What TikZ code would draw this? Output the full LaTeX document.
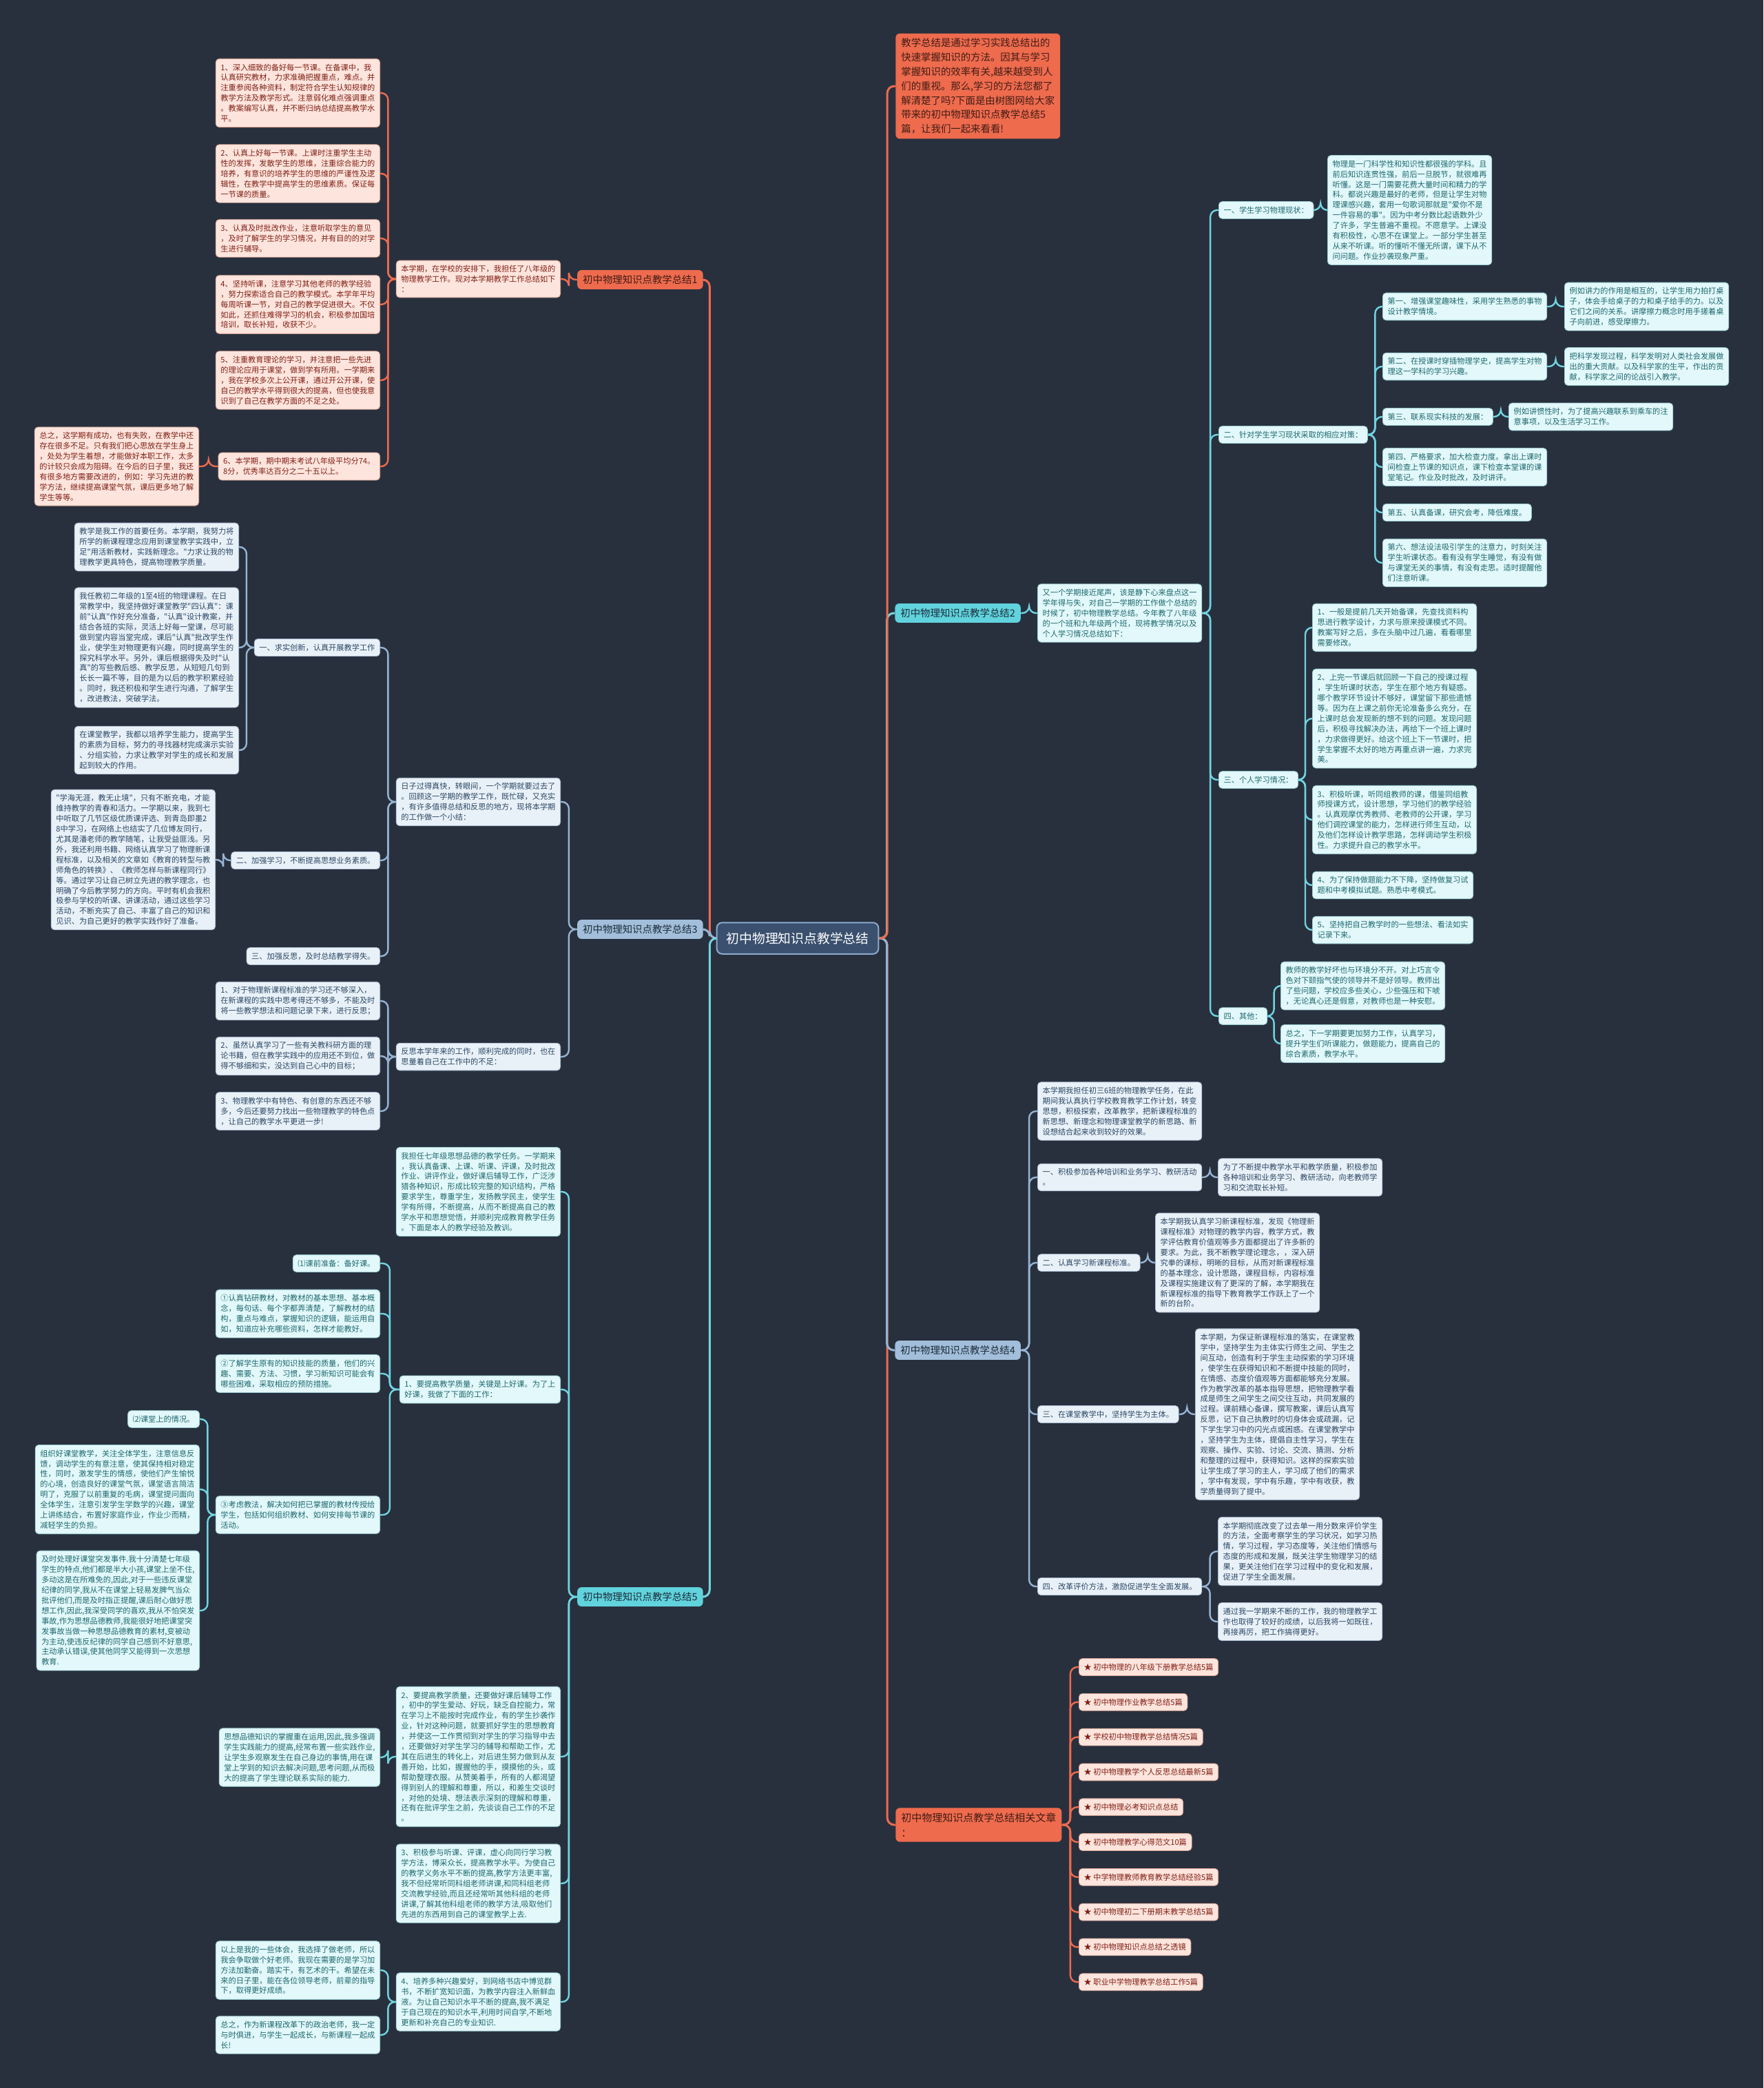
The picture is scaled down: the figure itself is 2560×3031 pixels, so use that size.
\documentclass[tikz,border=0pt]{standalone}
\usepackage{fontspec}
\newfontfamily\cjk{Noto Sans CJK SC}
\usetikzlibrary{calc}
\definecolor{canvas}{RGB}{40,48,62}
\definecolor{ember}{RGB}{238,107,78}
\definecolor{emberdeep}{RGB}{66,28,20}
\definecolor{blush}{RGB}{253,229,221}
\definecolor{blushedge}{RGB}{214,160,142}
\definecolor{blushtext}{RGB}{128,32,22}
\definecolor{aqua}{RGB}{96,211,221}
\definecolor{aqualine}{RGB}{112,212,224}
\definecolor{aquafill}{RGB}{226,248,250}
\definecolor{aquaedge}{RGB}{150,200,206}
\definecolor{aquatext}{RGB}{30,104,110}
\definecolor{steel}{RGB}{162,190,218}
\definecolor{steelline}{RGB}{150,180,210}
\definecolor{steelfill}{RGB}{233,241,248}
\definecolor{steeledge}{RGB}{165,185,205}
\definecolor{steeltext}{RGB}{44,72,100}
\definecolor{topictext}{RGB}{28,44,58}
\definecolor{hubfill}{RGB}{58,80,110}
\definecolor{hubedge}{RGB}{140,170,205}
\tikzset{
  hub/.style={fill=hubfill, draw=hubedge, line width=1pt, text=white, rounded corners=4pt,
    inner xsep=7pt, inner ysep=7pt, font=\cjk\fontsize{9.4}{11}\selectfont},
  topic/.style={rounded corners=3pt, inner xsep=4pt, inner ysep=3.6pt, align=left,
    font=\cjk\fontsize{7.2}{10.4}\selectfont},
  otopic/.style={topic, fill=ember, text=emberdeep},
  atopic/.style={topic, fill=aqua, text=topictext},
  stopic/.style={topic, fill=steel, text=topictext},
  leaf/.style={rounded corners=2.5pt, align=left, inner xsep=3.6pt, inner ysep=3.6pt,
    line width=0.4pt, font=\cjk\fontsize{5.6}{7.45}\selectfont},
  pinkbox/.style={leaf, fill=blush, draw=blushedge, text=blushtext},
  aquabox/.style={leaf, fill=aquafill, draw=aquaedge, text=aquatext},
  steelbox/.style={leaf, fill=steelfill, draw=steeledge, text=steeltext},
  elbow/.style={rounded corners=5pt, line width=1.2pt,
    to path={let \p1=(\tikztostart), \p2=(\tikztotarget) in -- ({(\x1+\x2)/2},\y1) |- (\p2)}},
  olink/.style={elbow, draw=ember},
  alink/.style={elbow, draw=aqualine},
  slink/.style={elbow, draw=steelline},
}
\begin{document}
\begin{tikzpicture}[x=0.5pt,y=-0.5pt]
\fill[canvas] (0,0) rectangle (2560,3031);
\useasboundingbox (0,0) rectangle (2560,3031);

\node[hub] (root) at (1158,1362) {初中物理知识点教学总结};

% right side
\node[otopic, anchor=west] (intro) at (1300,125)
  {教学总结是通过学习实践总结出的\\快速掌握知识的方法。因其与学习\\掌握知识的效率有关,越来越受到人\\们的重视。那么,学习的方法您都了\\解清楚了吗?下面是由树图网给大家\\带来的初中物理知识点教学总结5\\篇，让我们一起来看看!};
\node[atopic, anchor=west] (s2) at (1299,890) {初中物理知识点教学总结2};
\node[stopic, anchor=west] (s4) at (1299,1960) {初中物理知识点教学总结4};
\node[otopic, anchor=west, font=\cjk\fontsize{7.5}{11}\selectfont] (rel) at (1300,2649) {初中物理知识点教学总结相关文章\\：};

\node[aquabox, anchor=west] (s2a) at (1506,890)
  {又一个学期接近尾声，该是静下心来盘点这一\\学年得与失，对自己一学期的工作做个总结的\\时候了，初中物理教学总结。今年教了八年级\\的一个班和九年级两个班，现将教学情况以及\\个人学习情况总结如下：};
\node[aquabox, anchor=west] (s2h1) at (1769,305) {一、学生学习物理现状：};
\node[aquabox, anchor=west] (s2h1t) at (1927,305)
  {物理是一门科学性和知识性都很强的学科。且\\前后知识连贯性强，前后一旦脱节，就很难再\\听懂。这是一门需要花费大量时间和精力的学\\科。都说兴趣是最好的老师，但是让学生对物\\理课感兴趣，套用一句歌词那就是"爱你不是\\一件容易的事"。因为中考分数比起语数外少\\了许多，学生普遍不重视。不愿意学。上课没\\有积极性，心思不在课堂上。一部分学生甚至\\从来不听课。听的懂听不懂无所谓，课下从不\\问问题。作业抄袭现象严重。};
\node[aquabox, anchor=west] (s2h2) at (1769,631) {二、针对学生学习现状采取的相应对策：};
\node[aquabox, anchor=west] (s2k1) at (2007,445) {第一、增强课堂趣味性，采用学生熟悉的事物\\设计教学情境。};
\node[aquabox, anchor=west] (s2k1t) at (2271,445)
  {例如讲力的作用是相互的，让学生用力拍打桌\\子，体会手给桌子的力和桌子给手的力。以及\\它们之间的关系。讲摩擦力概念时用手搓着桌\\子向前进，感受摩擦力。};
\node[aquabox, anchor=west] (s2k2) at (2007,532) {第二、在授课时穿插物理学史，提高学生对物\\理这一学科的学习兴趣。};
\node[aquabox, anchor=west] (s2k2t) at (2271,532)
  {把科学发现过程，科学发明对人类社会发展做\\出的重大贡献。以及科学家的生平，作出的贡\\献，科学家之间的论战引入教学。};
\node[aquabox, anchor=west] (s2k3) at (2007,605) {第三、联系现实科技的发展：};
\node[aquabox, anchor=west] (s2k3t) at (2190,605) {例如讲惯性时，为了提高兴趣联系到乘车的注\\意事项，以及生活学习工作。};
\node[aquabox, anchor=west] (s2k4) at (2007,678)
  {第四、严格要求，加大检查力度。拿出上课时\\间检查上节课的知识点，课下检查本堂课的课\\堂笔记。作业及时批改，及时讲评。};
\node[aquabox, anchor=west] (s2k5) at (2007,744) {第五、认真备课，研究会考，降低难度。};
\node[aquabox, anchor=west] (s2k6) at (2007,817)
  {第六、想法设法吸引学生的注意力，时刻关注\\学生听课状态。看有没有学生睡觉，有没有做\\与课堂无关的事情，有没有走思。适时提醒他\\们注意听课。};
\node[aquabox, anchor=west] (s2h3) at (1769,1132) {三、个人学习情况：};
\node[aquabox, anchor=west] (s2p1) at (1905,911)
  {1、一般是提前几天开始备课，先查找资料构\\思进行教学设计，力求与原来授课模式不同。\\教案写好之后，多在头脑中过几遍，看看哪里\\需要修改。};
\node[aquabox, anchor=west] (s2p2) at (1905,1043)
  {2、上完一节课后就回顾一下自己的授课过程\\，学生听课时状态，学生在那个地方有疑惑。\\哪个教学环节设计不够好，课堂留下那些遗憾\\等。因为在上课之前你无论准备多么充分，在\\上课时总会发现新的想不到的问题。发现问题\\后，积极寻找解决办法，再给下一个班上课时\\，力求做得更好。给这个班上下一节课时，把\\学生掌握不太好的地方再重点讲一遍，力求完\\美。};
\node[aquabox, anchor=west] (s2p3) at (1905,1190)
  {3、积极听课，听同组教师的课，借鉴同组教\\师授课方式，设计思想，学习他们的教学经验\\。认真观摩优秀教师、老教师的公开课，学习\\他们调控课堂的能力，怎样进行师生互动，以\\及他们怎样设计教学思路，怎样调动学生积极\\性。力求提升自己的教学水平。};
\node[aquabox, anchor=west] (s2p4) at (1905,1285) {4、为了保持做题能力不下降，坚持做复习试\\题和中考模拟试题。熟悉中考模式。};
\node[aquabox, anchor=west] (s2p5) at (1905,1350) {5、坚持把自己教学时的一些想法、看法如实\\记录下来。};
\node[aquabox, anchor=west] (s2h4) at (1769,1475) {四、其他：};
\node[aquabox, anchor=west] (s2q1) at (1859,1431)
  {教师的教学好坏也与环境分不开。对上巧言令\\色对下颐指气使的领导并不是好领导。教师出\\了些问题，学校应多些关心，少些强压和下唬\\，无论真心还是假意，对教师也是一种安慰。};
\node[aquabox, anchor=west] (s2q2) at (1859,1515)
  {总之，下一学期要更加努力工作，认真学习，\\提升学生们听课能力，做题能力，提高自己的\\综合素质，教学水平。};

\node[steelbox, anchor=west] (s4a) at (1506,1613)
  {本学期我担任初三6班的物理教学任务，在此\\期间我认真执行学校教育教学工作计划，转变\\思想，积极探索，改革教学，把新课程标准的\\新思想、新理念和物理课堂教学的新思路、新\\设想结合起来收到较好的效果。};
\node[steelbox, anchor=west] (s4h1) at (1506,1709) {一、积极参加各种培训和业务学习、教研活动\\。};
\node[steelbox, anchor=west] (s4h1t) at (1768,1709)
  {为了不断提中教学水平和教学质量，积极参加\\各种培训和业务学习、教研活动，向老教师学\\习和交流取长补短。};
\node[steelbox, anchor=west] (s4h2) at (1506,1833) {二、认真学习新课程标准。};
\node[steelbox, anchor=west] (s4h2t) at (1677,1833)
  {本学期我认真学习新课程标准，发现《物理新\\课程标准》对物理的教学内容，教学方式，教\\学评估教育价值观等多方面都提出了许多新的\\要求。为此，我不断教学理论理念，，深入研\\究拳的课标，明晰的目标，从而对新课程标准\\的基本理念，设计思路，课程目标，内容标准\\及课程实施建议有了更深的了解，本学期我在\\新课程标准的指导下教育教学工作跃上了一个\\新的台阶。};
\node[steelbox, anchor=west] (s4h3) at (1506,2053) {三、在课堂教学中，坚持学生为主体。};
\node[steelbox, anchor=west] (s4h3t) at (1735,2053)
  {本学期，为保证新课程标准的落实，在课堂教\\学中，坚持学生为主体实行师生之间、学生之\\间互动，创造有利于学生主动探索的学习环境\\，使学生在获得知识和不断提中技能的同时，\\在情感、态度价值观等方面都能够充分发展。\\作为教学改革的基本指导思想，把物理教学看\\成是师生之间学生之间交往互动，共同发展的\\过程。课前精心备课，撰写教案，课后认真写\\反思，记下自己执教时的切身体会或疏漏，记\\下学生学习中的闪光点或困惑。在课堂教学中\\，坚持学生为主体，提倡自主性学习，学生在\\观察、操作、实验、讨论、交流、猜测、分析\\和整理的过程中，获得知识。这样的探索实验\\让学生成了学习的主人，学习成了他们的需求\\，学中有发现，学中有乐趣，学中有收获，教\\学质量得到了提中。};
\node[steelbox, anchor=west] (s4h4) at (1506,2303) {四、改革评价方法，激励促进学生全面发展。};
\node[steelbox, anchor=west] (s4h4a) at (1768,2252)
  {本学期彻底改变了过去单一用分数来评价学生\\的方法，全面考察学生的学习状况，如学习热\\情，学习过程，学习态度等，关注他们情感与\\态度的形成和发展，既关注学生物理学习的结\\果，更关注他们在学习过程中的变化和发展，\\促进了学生全面发展。};
\node[steelbox, anchor=west] (s4h4b) at (1768,2354)
  {通过我一学期来不断的工作，我的物理教学工\\作也取得了较好的成绩，以后我将一如既往，\\再接再厉，把工作搞得更好。};

\foreach \t [count=\k] in {初中物理的八年级下册教学总结5篇, 初中物理作业教学总结5篇,
    学校初中物理教学总结情况5篇, 初中物理教学个人反思总结最新5篇, 初中物理必考知识点总结,
    初中物理教学心得范文10篇, 中学物理教师教育教学总结经验5篇, 初中物理初二下册期末教学总结5篇,
    初中物理知识点总结之透镜, 职业中学物理教学总结工作5篇}{
  \node[pinkbox, anchor=west] (rel\k) at (1566,{2420+50.8*(\k-1)}) {★ \t};
  \draw[olink] (rel.east) to (rel\k.west);
}

% left side
\node[otopic, anchor=east] (s1) at (1021,406) {初中物理知识点教学总结1};
\node[stopic, anchor=east] (s3) at (1021,1349) {初中物理知识点教学总结3};
\node[atopic, anchor=east] (s5) at (1021,2318) {初中物理知识点教学总结5};

\node[pinkbox, anchor=east] (s1a) at (814,405)
  {本学期，在学校的安排下，我担任了八年级的\\物理教学工作。现对本学期教学工作总结如下\\：};
\node[pinkbox, anchor=east] (s1c1) at (552,135)
  {1、深入细致的备好每一节课。在备课中，我\\认真研究教材，力求准确把握重点，难点。并\\注重参阅各种资料，制定符合学生认知规律的\\教学方法及教学形式。注意弱化难点强调重点\\。教案编写认真，并不断归纳总结提高教学水\\平。};
\node[pinkbox, anchor=east] (s1c2) at (552,252)
  {2、认真上好每一节课。上课时注重学生主动\\性的发挥，发散学生的思维，注重综合能力的\\培养，有意识的培养学生的思维的严谨性及逻\\辑性，在教学中提高学生的思维素质。保证每\\一节课的质量。};
\node[pinkbox, anchor=east] (s1c3) at (552,346)
  {3、认真及时批改作业，注意听取学生的意见\\，及时了解学生的学习情况，并有目的的对学\\生进行辅导。};
\node[pinkbox, anchor=east] (s1c4) at (552,442)
  {4、坚持听课，注意学习其他老师的教学经验\\，努力探索适合自己的教学模式。本学年平均\\每周听课一节，对自己的教学促进很大。不仅\\如此，还抓住难得学习的机会，积极参加国培\\培训，取长补短，收获不少。};
\node[pinkbox, anchor=east] (s1c5) at (552,552)
  {5、注重教育理论的学习，并注意把一些先进\\的理论应用于课堂，做到学有所用。一学期来\\，我在学校多次上公开课，通过开公开课，使\\自己的教学水平得到很大的提高，但也使我意\\识到了自己在教学方面的不足之处。};
\node[pinkbox, anchor=east] (s1c6) at (552,677)
  {6、本学期，期中期末考试八年级平均分74。\\8分，优秀率达百分之二十五以上。};
\node[pinkbox, anchor=east] (s1c6t) at (289,677)
  {总之，这学期有成功，也有失败，在教学中还\\存在很多不足。只有我们把心思放在学生身上\\，处处为学生着想，才能做好本职工作，太多\\的计较只会成为阻碍。在今后的日子里，我还\\有很多地方需要改进的，例如：学习先进的教\\学方法，继续提高课堂气氛，课后更多地了解\\学生等等。};

\node[steelbox, anchor=east] (s3a) at (814,1164)
  {日子过得真快，转眼间，一个学期就要过去了\\。回顾这一学期的教学工作，既忙碌，又充实\\，有许多值得总结和反思的地方，现将本学期\\的工作做一个小结：};
\node[steelbox, anchor=east] (s3h1) at (552,940) {一、求实创新，认真开展教学工作};
\node[steelbox, anchor=east] (s3h1a) at (347,794)
  {教学是我工作的首要任务。本学期，我努力将\\所学的新课程理念应用到课堂教学实践中，立\\足"用活新教材，实践新理念。"力求让我的物\\理教学更具特色，提高物理教学质量。};
\node[steelbox, anchor=east] (s3h1b) at (347,940)
  {我任教初二年级的1至4班的物理课程。在日\\常教学中，我坚持做好课堂教学"四认真"：课\\前"认真"作好充分准备，"认真"设计教案，并\\结合各班的实际，灵活上好每一堂课，尽可能\\做到堂内容当堂完成，课后"认真"批改学生作\\业，使学生对物理更有兴趣，同时提高学生的\\探究科学水平。另外，课后根据得失及时"认\\真"的写些教后感、教学反思，从短短几句到\\长长一篇不等，目的是为以后的教学积累经验\\。同时，我还积极和学生进行沟通，了解学生\\，改进教法，突破学法。};
\node[steelbox, anchor=east] (s3h1c) at (347,1089)
  {在课堂教学，我都以培养学生能力，提高学生\\的素质为目标，努力的寻找器材完成演示实验\\、分组实验，力求让教学对学生的成长和发展\\起到较大的作用。};
\node[steelbox, anchor=east] (s3h2) at (552,1249) {二、加强学习，不断提高思想业务素质。};
\node[steelbox, anchor=east] (s3h2t) at (313,1248)
  {"学海无涯，教无止境"，只有不断充电，才能\\维持教学的青春和活力。一学期以来，我到七\\中听取了几节区级优质课评选、到青岛即墨2\\8中学习，在网络上也结实了几位博友同行，\\尤其是潘老师的教学随笔，让我受益匪浅。另\\外，我还利用书籍、网络认真学习了物理新课\\程标准，以及相关的文章如《教育的转型与教\\师角色的转换》、《教师怎样与新课程同行》\\等。通过学习让自己树立先进的教学理念，也\\明确了今后教学努力的方向。平时有机会我积\\极参与学校的听课、讲课活动，通过这些学习\\活动，不断充实了自己、丰富了自己的知识和\\见识、为自己更好的教学实践作好了准备。};
\node[steelbox, anchor=east] (s3h3) at (552,1388) {三、加强反思，及时总结教学得失。};
\node[steelbox, anchor=east] (s3b) at (814,1534)
  {反思本学年来的工作，顺利完成的同时，也在\\思量着自己在工作中的不足：};
\node[steelbox, anchor=east] (s3b1) at (552,1453)
  {1、对于物理新课程标准的学习还不够深入，\\在新课程的实践中思考得还不够多，不能及时\\将一些教学想法和问题记录下来，进行反思；};
\node[steelbox, anchor=east] (s3b2) at (552,1533)
  {2、虽然认真学习了一些有关教科研方面的理\\论书籍，但在教学实践中的应用还不到位，做\\得不够细和实，没达到自己心中的目标；};
\node[steelbox, anchor=east] (s3b3) at (552,1613)
  {3、物理教学中有特色、有创意的东西还不够\\多，今后还要努力找出一些物理教学的特色点\\，让自己的教学水平更进一步!};

\node[aquabox, anchor=east] (s5a) at (814,1730)
  {我担任七年级思想品德的教学任务。一学期来\\，我认真备课、上课、听课、评课，及时批改\\作业、讲评作业，做好课后辅导工作，广泛涉\\猎各种知识，形成比较完整的知识结构，严格\\要求学生，尊重学生，发扬教学民主，使学生\\学有所得，不断提高，从而不断提高自己的教\\学水平和思想觉悟，并顺利完成教育教学任务\\。下面是本人的教学经验及教训。};
\node[aquabox, anchor=east] (s5b) at (814,2017)
  {1、要提高教学质量，关键是上好课。为了上\\好课，我做了下面的工作：};
\node[aquabox, anchor=east] (s5b1) at (552,1834) {⑴课前准备：备好课。};
\node[aquabox, anchor=east] (s5b2) at (552,1907)
  {①认真钻研教材，对教材的基本思想、基本概\\念，每句话、每个字都弄清楚，了解教材的结\\构，重点与难点，掌握知识的逻辑，能运用自\\如，知道应补充哪些资料，怎样才能教好。};
\node[aquabox, anchor=east] (s5b3) at (552,1994)
  {②了解学生原有的知识技能的质量，他们的兴\\趣、需要、方法、习惯，学习新知识可能会有\\哪些困难，采取相应的预防措施。};
\node[aquabox, anchor=east] (s5b4) at (552,2199)
  {③考虑教法，解决如何把已掌握的教材传授给\\学生，包括如何组织教材、如何安排每节课的\\活动。};
\node[aquabox, anchor=east] (s5b4a) at (290,2060) {⑵课堂上的情况。};
\node[aquabox, anchor=east] (s5b4b) at (290,2162)
  {组织好课堂教学，关注全体学生，注意信息反\\馈，调动学生的有意注意，使其保持相对稳定\\性，同时，激发学生的情感，使他们产生愉悦\\的心境，创造良好的课堂气氛，课堂语言简洁\\明了，克服了以前重复的毛病，课堂提问面向\\全体学生，注意引发学生学数学的兴趣，课堂\\上讲练结合，布置好家庭作业，作业少而精，\\减轻学生的负担。};
\node[aquabox, anchor=east] (s5b4c) at (290,2338)
  {及时处理好课堂突发事件.我十分清楚七年级\\学生的特点,他们都是半大小孩,课堂上坐不住,\\多动这是在所难免的,因此,对于一些违反课堂\\纪律的同学,我从不在课堂上轻易发脾气当众\\批评他们,而是及时指正提醒,课后耐心做好思\\想工作,因此,我深受同学的喜欢,我从不怕突发\\事故,作为思想品德教师,我能很好地把课堂突\\发事故当做一种思想品德教育的素材,变被动\\为主动,使违反纪律的同学自己感到不好意思,\\主动承认错误,使其他同学又能得到一次思想\\教育.};
\node[aquabox, anchor=east] (s5c) at (814,2550)
  {2、要提高教学质量，还要做好课后辅导工作\\，初中的学生爱动、好玩，缺乏自控能力，常\\在学习上不能按时完成作业，有的学生抄袭作\\业，针对这种问题，就要抓好学生的思想教育\\，并使这一工作贯彻到对学生的学习指导中去\\，还要做好对学生学习的辅导和帮助工作，尤\\其在后进生的转化上，对后进生努力做到从友\\善开始，比如，握握他的手，摸摸他的头，或\\帮助整理衣服。从赞美着手，所有的人都渴望\\得到别人的理解和尊重，所以，和差生交谈时\\，对他的处境、想法表示深刻的理解和尊重，\\还有在批评学生之前，先谈谈自己工作的不足\\。};
\node[aquabox, anchor=east] (s5ct) at (552,2551)
  {思想品德知识的掌握重在运用,因此,我多强调\\学生实践能力的提高,经常布置一些实践作业,\\让学生多观察发生在自己身边的事情,用在课\\堂上学到的知识去解决问题,思考问题,从而极\\大的提高了学生理论联系实际的能力.};
\node[aquabox, anchor=east] (s5d) at (814,2734)
  {3、积极参与听课、评课，虚心向同行学习教\\学方法，博采众长，提高教学水平。为使自己\\的教学义务水平不断的提高,教学方法更丰富,\\我不但经常听同科组老师讲课,和同科组老师\\交流教学经验,而且还经常听其他科组的老师\\讲课,了解其他科组老师的教学方法,吸取他们\\先进的东西用到自己的课堂教学上去.};
\node[aquabox, anchor=east] (s5e) at (814,2906)
  {4、培养多种兴趣爱好，到网络书店中博览群\\书，不断扩宽知识面，为教学内容注入新鲜血\\液。为让自己知识水平不断的提高,我不满足\\于自己现在的知识水平,利用时间自学,不断地\\更新和补充自己的专业知识.};
\node[aquabox, anchor=east] (s5e1) at (552,2860)
  {以上是我的一些体会，我选择了做老师，所以\\我会争取做个好老师。我现在需要的是学习加\\方法加勤奋。踏实干，有艺术的干。希望在未\\来的日子里，能在各位领导老师，前辈的指导\\下，取得更好成绩。};
\node[aquabox, anchor=east] (s5e2) at (552,2954)
  {总之，作为新课程改革下的政治老师，我一定\\与时俱进，与学生一起成长，与新课程一起成\\长!};

% connectors
\draw[olink, line width=1.5pt] (root.east) to (rel.west);
\draw[slink, line width=1.5pt] (root.east) to (s4.west);
\draw[alink, line width=1.5pt] (root.east) to (s2.west);
\draw[olink, line width=1.5pt] (root.east) to (intro.west);
\draw[olink, line width=1.5pt] (root.west) to (s1.east);
\draw[slink, line width=1.5pt] (root.west) to (s3.east);
\draw[alink, line width=1.5pt] (root.west) to (s5.east);

\draw[alink] (s2.east) to (s2a.west);
\foreach \nd in {s2h1,s2h2,s2h3,s2h4} \draw[alink] (s2a.east) to (\nd.west);
\draw[alink] (s2h1.east) to (s2h1t.west);
\foreach \nd in {s2k1,s2k2,s2k3,s2k4,s2k5,s2k6} \draw[alink] (s2h2.east) to (\nd.west);
\draw[alink] (s2k1.east) to (s2k1t.west);
\draw[alink] (s2k2.east) to (s2k2t.west);
\draw[alink] (s2k3.east) to (s2k3t.west);
\foreach \nd in {s2p1,s2p2,s2p3,s2p4,s2p5} \draw[alink] (s2h3.east) to (\nd.west);
\foreach \nd in {s2q1,s2q2} \draw[alink] (s2h4.east) to (\nd.west);

\foreach \nd in {s4a,s4h1,s4h2,s4h3,s4h4} \draw[slink] (s4.east) to (\nd.west);
\draw[slink] (s4h1.east) to (s4h1t.west);
\draw[slink] (s4h2.east) to (s4h2t.west);
\draw[slink] (s4h3.east) to (s4h3t.west);
\foreach \nd in {s4h4a,s4h4b} \draw[slink] (s4h4.east) to (\nd.west);

\draw[olink] (s1.west) to (s1a.east);
\foreach \nd in {s1c1,s1c2,s1c3,s1c4,s1c5,s1c6} \draw[olink] (s1a.west) to (\nd.east);
\draw[olink] (s1c6.west) to (s1c6t.east);

\foreach \nd in {s3a,s3b} \draw[slink] (s3.west) to (\nd.east);
\foreach \nd in {s3h1,s3h2,s3h3} \draw[slink] (s3a.west) to (\nd.east);
\foreach \nd in {s3h1a,s3h1b,s3h1c} \draw[slink] (s3h1.west) to (\nd.east);
\draw[slink] (s3h2.west) to (s3h2t.east);
\foreach \nd in {s3b1,s3b2,s3b3} \draw[slink] (s3b.west) to (\nd.east);

\foreach \nd in {s5a,s5b,s5c,s5d,s5e} \draw[alink] (s5.west) to (\nd.east);
\foreach \nd in {s5b1,s5b2,s5b3,s5b4} \draw[alink] (s5b.west) to (\nd.east);
\foreach \nd in {s5b4a,s5b4b,s5b4c} \draw[alink] (s5b4.west) to (\nd.east);
\draw[alink] (s5c.west) to (s5ct.east);
\foreach \nd in {s5e1,s5e2} \draw[alink] (s5e.west) to (\nd.east);
\end{tikzpicture}
\end{document}
